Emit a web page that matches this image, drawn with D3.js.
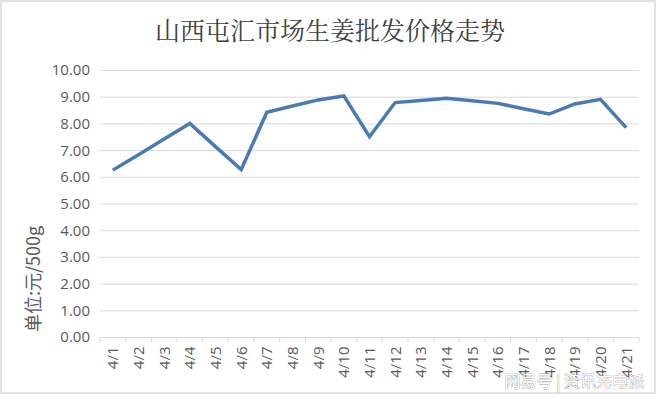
<!DOCTYPE html>
<html>
<head>
<meta charset="utf-8">
<script src="https://d3js.org/d3.v7.min.js"></script>
<style>
  * { margin: 0; padding: 0; }
  body { background: #fff; width: 660px; height: 397px; overflow: hidden; }
  svg { display: block; }
</style>
</head>
<body>
<svg id="chart" width="660" height="397"></svg>
<script>
const dates = ["4/1","4/2","4/3","4/4","4/5","4/6","4/7","4/8","4/9","4/10","4/11","4/12","4/13","4/14","4/15","4/16","4/17","4/18","4/19","4/20","4/21"];
const prices = [6.25, 6.83, 7.42, 8.00, 7.13, 6.27, 8.42, 8.65, 8.88, 9.03, 7.50, 8.78, 8.86, 8.94, 8.85, 8.75, 8.55, 8.35, 8.73, 8.90, 7.84];
const yTicks = [0, 1, 2, 3, 4, 5, 6, 7, 8, 9, 10];
const title = "山西屯汇市场生姜批发价格走势";
const yLabel = "单位:元/500g";

const svg = d3.select("#chart");
const m = { left: 100, right: 639, top: 70, bottom: 337 };
const tickFont = "'Open Sans', 'Noto Sans', sans-serif";

svg.append("rect").attr("x", 1).attr("y", 1).attr("width", 654).attr("height", 392)
  .attr("fill", "#fff").attr("stroke", "#d9d9d9").attr("stroke-width", 1.5);

const x = d3.scaleBand().domain(dates).range([m.left, m.right]);
const y = d3.scaleLinear().domain([0, 10]).range([m.bottom, m.top]);

// gridlines
svg.append("g").selectAll("line").data(yTicks.slice(1)).join("line")
  .attr("x1", m.left).attr("x2", m.right)
  .attr("y1", d => y(d) + 0.5).attr("y2", d => y(d) + 0.5)
  .attr("stroke", "#d9d9d9").attr("stroke-width", 1);

// y tick labels
svg.append("g").selectAll("text").data(yTicks).join("text")
  .attr("x", 90).attr("y", d => y(d)).attr("dy", "0.36em")
  .attr("text-anchor", "end")
  .attr("font-family", tickFont).attr("font-size", 15)
  .attr("fill", "#595959")
  .text(d => d.toFixed(2));

// x axis
const xAxis = svg.append("g").attr("transform", `translate(0,${m.bottom + 0.5})`);
xAxis.append("line").attr("x1", m.left).attr("x2", m.right).attr("stroke", "#d9d9d9");
const bounds = dates.map(d => x(d)).concat([m.right]);
xAxis.selectAll("line.tick").data(bounds).join("line").attr("class", "tick")
  .attr("x1", d => d).attr("x2", d => d).attr("y1", 0).attr("y2", 5)
  .attr("stroke", "#d9d9d9");
xAxis.selectAll("text").data(dates).join("text")
  .attr("transform", d => `translate(${x(d) + x.bandwidth() / 2 + 5.5},9) rotate(-90)`)
  .attr("text-anchor", "end")
  .attr("font-family", tickFont).attr("font-size", 15)
  .attr("fill", "#595959")
  .text(d => d);

// line
const line = d3.line()
  .x((d, i) => x(dates[i]) + x.bandwidth() / 2)
  .y(d => y(d));
svg.append("path").datum(prices)
  .attr("d", line)
  .attr("fill", "none").attr("stroke", "#4a7ab4").attr("stroke-width", 3.5)
  .attr("stroke-linejoin", "miter");

// title
svg.append("text").attr("x", 330).attr("y", 40).attr("text-anchor", "middle")
  .attr("font-family", "'Noto Serif CJK SC', 'Noto Sans CJK SC', serif").attr("font-size", 25)
  .attr("fill", "#404040")
  .text(title);

// y label
svg.append("text").attr("transform", "translate(40,279) rotate(-90)")
  .attr("text-anchor", "middle")
  .attr("font-family", "'Noto Sans CJK SC', sans-serif").attr("font-size", 18)
  .attr("fill", "#595959")
  .text(yLabel);

// watermark
svg.append("text").attr("x", 644).attr("y", 387).attr("text-anchor", "end")
  .attr("font-family", "'Noto Sans CJK SC', sans-serif").attr("font-size", 16)
  .attr("fill", "#fff").attr("stroke", "#9a9a9a").attr("stroke-width", 0.7)
  .attr("paint-order", "stroke")
  .text("网易号 | 资讯充电派");
</script>
</body>
</html>
